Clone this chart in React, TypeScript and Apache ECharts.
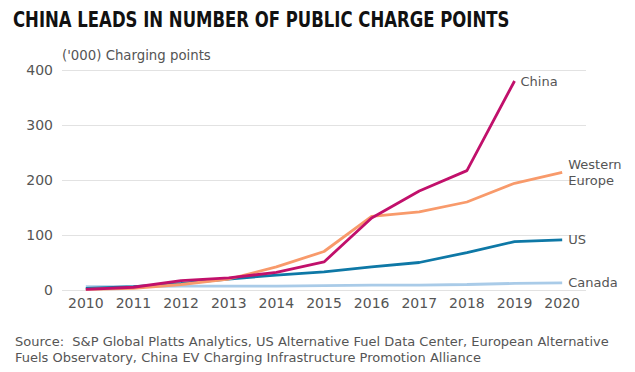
import React, { useEffect, useRef } from "react";
import * as echarts from "echarts";

const years = ["2010", "2011", "2012", "2013", "2014", "2015", "2016", "2017", "2018", "2019", "2020"];
const china = [1, 5, 17, 22, 32, 51, 131, 180, 217, 380, null];
const westernEurope = [1, 3, 10, 20, 42, 70, 134, 142, 160, 194, 214];
const us = [3, 6, 12, 20, 27, 33, 42, 50, 68, 88, 91];
const canada = [6, 6, 7, 7, 7, 8, 9, 9, 10, 12, 13];
const yTicks = [0, 100, 200, 300, 400];

const FONT = "'DejaVu Sans', sans-serif";
const TITLE_FONT = "'DejaVu Sans Condensed', 'DejaVu Sans', sans-serif";

export default function App() {
  const ref = useRef<HTMLDivElement>(null);
  useEffect(() => {
    const chart = echarts.init(ref.current!, null, { renderer: "svg" });
    const mk = (name: string, data: any[], color: string, label: string, z: number) => ({
      name,
      type: "line",
      data,
      z,
      symbol: "none",
      lineStyle: { color, width: 2.8 },
      itemStyle: { color },
      endLabel: {
        show: true,
        formatter: label,
        color: "#555",
        fontFamily: FONT,
        fontSize: 13,
        lineHeight: 16,
        distance: 6,
      },
    });
    chart.setOption({
      animation: false,
      graphic: [
        {
          type: "text",
          left: 13,
          top: 10,
          scaleX: 0.895,
          style: {
            text: "CHINA LEADS IN NUMBER OF PUBLIC CHARGE POINTS",
            fontFamily: TITLE_FONT,
            fontWeight: "bold",
            fontSize: 20.5,
            fill: "#111",
          },
        },
        {
          type: "text",
          left: 62,
          top: 49,
          style: {
            text: "('000) Charging points",
            fontFamily: FONT,
            fontSize: 13.3,
            fill: "#555",
          },
        },
        {
          type: "text",
          left: 15,
          top: 333,
          style: {
            text: "Source:  S&P Global Platts Analytics, US Alternative Fuel Data Center, European Alternative\nFuels Observatory, China EV Charging Infrastructure Promotion Alliance",
            fontFamily: FONT,
            fontSize: 13,
            lineHeight: 16,
            fill: "#555",
          },
        },
      ],
      grid: { left: 62, right: 49, top: 70, bottom: 82, containLabel: false },
      xAxis: {
        type: "category",
        data: years,
        boundaryGap: true,
        axisLine: { show: false },
        axisTick: { show: false },
        axisLabel: { color: "#555", fontFamily: FONT, fontSize: 14, margin: 6 },
      },
      yAxis: {
        type: "value",
        min: yTicks[0],
        max: yTicks[yTicks.length - 1],
        interval: 100,
        axisLine: { show: false },
        axisTick: { show: false },
        axisLabel: { color: "#555", fontFamily: FONT, fontSize: 14, margin: 9 },
        splitLine: { lineStyle: { color: "#e2e2e2", width: 1 } },
      },
      series: [
        mk("Canada", canada, "#a9cbe8", "Canada", 1),
        mk("US", us, "#0e78a6", "US", 2),
        mk("Western Europe", westernEurope, "#f89a6b", "Western\nEurope", 3),
        mk("China", china, "#c1106b", "China", 4),
      ],
    });
    return () => chart.dispose();
  }, []);
  return <div ref={ref} style={{ width: 635, height: 372, position: "absolute", left: 0, top: 0, background: "#fff" }} />;
}
